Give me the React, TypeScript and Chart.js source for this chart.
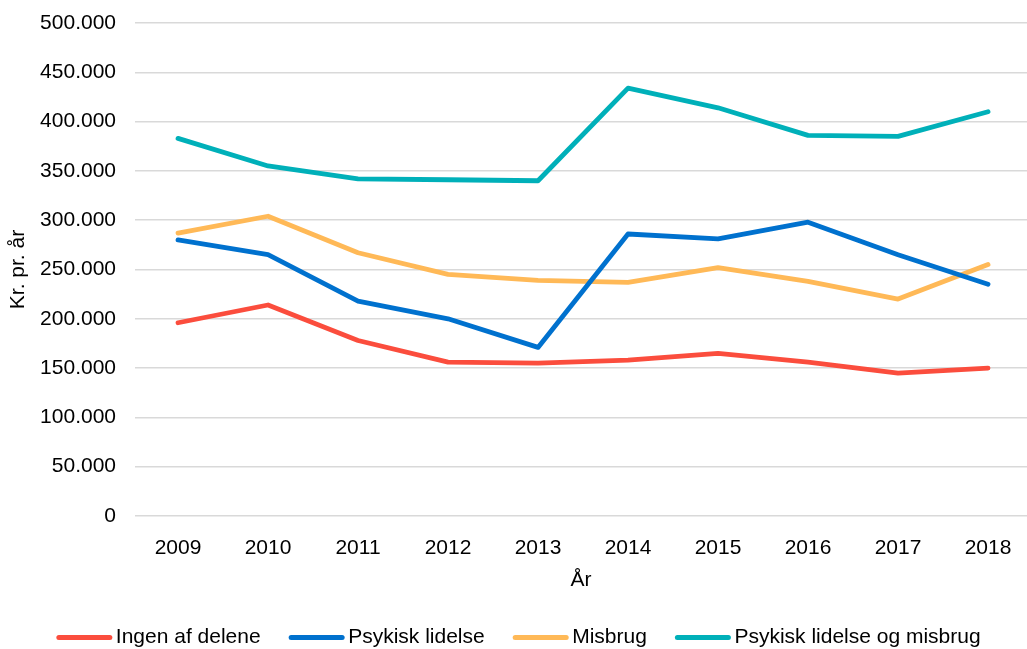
import React, { useEffect, useRef } from "react";
import { Chart, registerables } from "chart.js";

Chart.register(...registerables);

const years = [2009, 2010, 2011, 2012, 2013, 2014, 2015, 2016, 2017, 2018];
const seriesNames = ["Ingen af delene", "Psykisk lidelse", "Misbrug", "Psykisk lidelse og misbrug"];
const ingenAfDelene = [196000, 214000, 178000, 156000, 155000, 158000, 165000, 156000, 145000, 150000];
const psykiskLidelse = [280000, 265000, 218000, 200000, 171000, 286000, 281000, 298000, 265000, 235000];
const misbrug = [287000, 304000, 267000, 245000, 239000, 237000, 252000, 238000, 220000, 255000];
const psykiskOgMisbrug = [383000, 355000, 342000, 341000, 340000, 434000, 414000, 386000, 385000, 410000];
const colors = ["#fb4d3d", "#0071ce", "#ffb957", "#00b0b9"];
const yAxisTitle = "Kr. pr. år";
const xAxisTitle = "År";

const FONT = "'Liberation Sans', Arial, sans-serif";

const fmt = (v: number) => String(v).replace(/\B(?=(\d{3})+(?!\d))/g, ".");

const legendPlugin = {
  id: "customLegend",
  afterDraw(chart: any) {
    const ctx = chart.ctx;
    const ds = chart.data.datasets;
    ctx.save();
    ctx.font = `21px ${FONT}`;
    const lineW = 56;
    const gapText = 3.5;
    const gapItem = 28;
    const widths = ds.map((d: any) => ctx.measureText(d.label).width);
    let total = 0;
    widths.forEach((w: number, i: number) => {
      total += lineW + gapText + w + (i < widths.length - 1 ? gapItem : 0);
    });
    let x = chart.width / 2 + 5 - total / 2;
    const y = 637.5;
    ds.forEach((d: any, i: number) => {
      ctx.strokeStyle = d.borderColor;
      ctx.lineWidth = 5;
      ctx.lineCap = "round";
      ctx.beginPath();
      ctx.moveTo(x + 2.5, y);
      ctx.lineTo(x + lineW - 2.5, y);
      ctx.stroke();
      x += lineW + gapText;
      ctx.fillStyle = "#000";
      ctx.textBaseline = "middle";
      ctx.textAlign = "left";
      ctx.fillText(d.label, x, y);
      x += widths[i] + gapItem;
    });
    ctx.restore();
  },
};

export default function App() {
  const ref = useRef<HTMLCanvasElement>(null);
  useEffect(() => {
    if (!ref.current) return;
    const all = [ingenAfDelene, psykiskLidelse, misbrug, psykiskOgMisbrug];
    const chart = new Chart(ref.current, {
      type: "line",
      data: {
        datasets: all.map((vals, i) => ({
          label: seriesNames[i],
          data: years.map((yr, j) => ({ x: yr, y: vals[j] })),
          borderColor: colors[i],
          backgroundColor: colors[i],
          borderWidth: 4.8,
          pointRadius: 0,
          borderCapStyle: "round",
          borderJoinStyle: "round",
          tension: 0,
        })),
      },
      options: {
        animation: false,
        responsive: false,
        layout: { padding: { top: 23, bottom: 53, left: 0, right: 0 } },
        plugins: { legend: { display: false }, tooltip: { enabled: false } },
        scales: {
          x: {
            type: "linear",
            min: 2008.522,
            max: 2018.433,
            afterFit: (s: any) => {
              s.height = 80;
              s.paddingLeft = 0;
              s.paddingRight = 0;
            },
            afterBuildTicks: (s: any) => {
              s.ticks = years.map((v) => ({ value: v }));
            },
            grid: { display: false },
            border: { display: false },
            ticks: {
              padding: 12,
              color: "#000",
              font: { family: FONT, size: 21 },
              callback: (v: any) => String(v),
              maxRotation: 0,
              autoSkip: false,
            },
            title: {
              display: true,
              text: xAxisTitle,
              color: "#000",
              font: { family: FONT, size: 21 },
              padding: { top: 0, bottom: 3 },
            },
          },
          y: {
            min: 0,
            max: 500000,
            afterFit: (s: any) => {
              s.width = 135;
              s.paddingTop = 0;
              s.paddingBottom = 0;
            },
            grid: { color: "#d9d9d9", lineWidth: 1.5, drawTicks: false },
            border: { display: false },
            ticks: {
              stepSize: 50000,
              padding: 19,
              color: "#000",
              font: { family: FONT, size: 21 },
              callback: (v: any) => fmt(Number(v)),
            },
            title: {
              display: true,
              text: yAxisTitle,
              color: "#000",
              font: { family: FONT, size: 21 },
              padding: { top: 6, bottom: 0 },
            },
          },
        },
      },
      plugins: [legendPlugin],
    });
    return () => chart.destroy();
  }, []);
  return (
    <div style={{ position: "fixed", left: 0, top: 0, width: 1027, height: 649, background: "#fff" }}>
      <canvas ref={ref} width={1027} height={649} />
    </div>
  );
}
